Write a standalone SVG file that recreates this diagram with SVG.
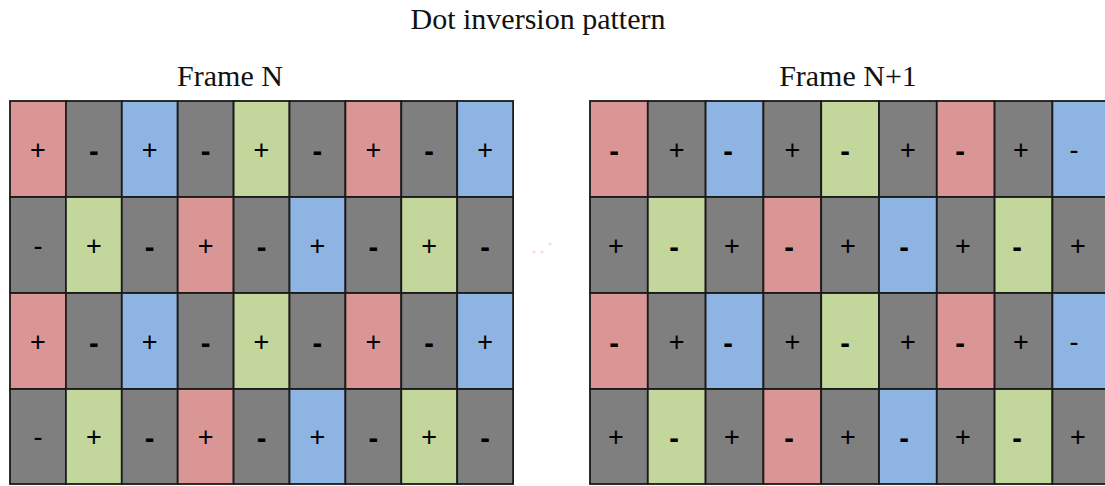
<svg xmlns="http://www.w3.org/2000/svg" width="1105" height="486" viewBox="0 0 1105 486">
<style>
.r{fill:#D99694}.k{fill:#7F7F7F}.b{fill:#8EB4E3}.g{fill:#C3D69B}
rect.c{stroke:#1a1a1a;stroke-width:1.8}
.t{font-family:"Liberation Serif","Times New Roman",serif;fill:#111;text-anchor:middle}
.s{font-family:"Liberation Sans",Arial,sans-serif;font-size:27px;fill:#000;text-anchor:middle}
.m{font-weight:bold;font-size:29px}
</style>
<rect width="1105" height="486" fill="#fff"/>
<text class="t" x="538" y="29" font-size="30">Dot inversion pattern</text>
<text class="t" x="230" y="86" font-size="30">Frame N</text>
<text class="t" x="848" y="86" font-size="30">Frame N+1</text>
<g id="watermark" fill="#FCD9C4" opacity="0.8">
<circle cx="534" cy="252" r="1.6"/><circle cx="542" cy="252" r="1.6"/><circle cx="550" cy="244" r="1.6"/>
</g>
<g id="frameN">
<g id="n-r1">
<rect class="c r" x="10" y="101" width="55.9" height="96"/><text class="s" x="38" y="159">+</text>
<rect class="c k" x="65.9" y="101" width="55.9" height="96"/><text class="s m" x="93.8" y="161">-</text>
<rect class="c b" x="121.8" y="101" width="55.9" height="96"/><text class="s" x="149.7" y="159">+</text>
<rect class="c k" x="177.7" y="101" width="55.9" height="96"/><text class="s m" x="205.6" y="161">-</text>
<rect class="c g" x="233.6" y="101" width="55.9" height="96"/><text class="s" x="261.5" y="159">+</text>
<rect class="c k" x="289.5" y="101" width="55.9" height="96"/><text class="s m" x="317.4" y="161">-</text>
<rect class="c r" x="345.4" y="101" width="55.9" height="96"/><text class="s" x="373.3" y="159">+</text>
<rect class="c k" x="401.3" y="101" width="55.9" height="96"/><text class="s m" x="429.2" y="161">-</text>
<rect class="c b" x="457.2" y="101" width="55.9" height="96"/><text class="s" x="485.1" y="159">+</text>
</g>
<g id="n-r2">
<rect class="c k" x="10" y="197" width="55.9" height="96"/><text class="s" x="38" y="255">-</text>
<rect class="c g" x="65.9" y="197" width="55.9" height="96"/><text class="s" x="93.8" y="255">+</text>
<rect class="c k" x="121.8" y="197" width="55.9" height="96"/><text class="s m" x="149.7" y="257">-</text>
<rect class="c r" x="177.7" y="197" width="55.9" height="96"/><text class="s" x="205.6" y="255">+</text>
<rect class="c k" x="233.6" y="197" width="55.9" height="96"/><text class="s m" x="261.5" y="257">-</text>
<rect class="c b" x="289.5" y="197" width="55.9" height="96"/><text class="s" x="317.4" y="255">+</text>
<rect class="c k" x="345.4" y="197" width="55.9" height="96"/><text class="s m" x="373.3" y="257">-</text>
<rect class="c g" x="401.3" y="197" width="55.9" height="96"/><text class="s" x="429.2" y="255">+</text>
<rect class="c k" x="457.2" y="197" width="55.9" height="96"/><text class="s m" x="485.1" y="257">-</text>
</g>
<g id="n-r3">
<rect class="c r" x="10" y="293" width="55.9" height="96"/><text class="s" x="38" y="351">+</text>
<rect class="c k" x="65.9" y="293" width="55.9" height="96"/><text class="s m" x="93.8" y="353">-</text>
<rect class="c b" x="121.8" y="293" width="55.9" height="96"/><text class="s" x="149.7" y="351">+</text>
<rect class="c k" x="177.7" y="293" width="55.9" height="96"/><text class="s m" x="205.6" y="353">-</text>
<rect class="c g" x="233.6" y="293" width="55.9" height="96"/><text class="s" x="261.5" y="351">+</text>
<rect class="c k" x="289.5" y="293" width="55.9" height="96"/><text class="s m" x="317.4" y="353">-</text>
<rect class="c r" x="345.4" y="293" width="55.9" height="96"/><text class="s" x="373.3" y="351">+</text>
<rect class="c k" x="401.3" y="293" width="55.9" height="96"/><text class="s m" x="429.2" y="353">-</text>
<rect class="c b" x="457.2" y="293" width="55.9" height="96"/><text class="s" x="485.1" y="351">+</text>
</g>
<g id="n-r4">
<rect class="c k" x="10" y="389" width="55.9" height="95"/><text class="s" x="38" y="446">-</text>
<rect class="c g" x="65.9" y="389" width="55.9" height="95"/><text class="s" x="93.8" y="446">+</text>
<rect class="c k" x="121.8" y="389" width="55.9" height="95"/><text class="s m" x="149.7" y="448">-</text>
<rect class="c r" x="177.7" y="389" width="55.9" height="95"/><text class="s" x="205.6" y="446">+</text>
<rect class="c k" x="233.6" y="389" width="55.9" height="95"/><text class="s m" x="261.5" y="448">-</text>
<rect class="c b" x="289.5" y="389" width="55.9" height="95"/><text class="s" x="317.4" y="446">+</text>
<rect class="c k" x="345.4" y="389" width="55.9" height="95"/><text class="s m" x="373.3" y="448">-</text>
<rect class="c g" x="401.3" y="389" width="55.9" height="95"/><text class="s" x="429.2" y="446">+</text>
<rect class="c k" x="457.2" y="389" width="55.9" height="95"/><text class="s m" x="485.1" y="448">-</text>
</g>
</g>
<g id="frameN1">
<g id="n1-r1">
<rect class="c r" x="590" y="101" width="57.8" height="96"/><text class="s m" x="614" y="161">-</text>
<rect class="c k" x="647.8" y="101" width="57.8" height="96"/><text class="s" x="676.7" y="159">+</text>
<rect class="c b" x="705.6" y="101" width="57.8" height="96"/><text class="s m" x="728" y="161">-</text>
<rect class="c k" x="763.4" y="101" width="57.8" height="96"/><text class="s" x="792.3" y="159">+</text>
<rect class="c g" x="821.2" y="101" width="57.8" height="96"/><text class="s m" x="845" y="161">-</text>
<rect class="c k" x="879" y="101" width="57.8" height="96"/><text class="s" x="907.9" y="159">+</text>
<rect class="c r" x="936.8" y="101" width="57.8" height="96"/><text class="s m" x="960" y="161">-</text>
<rect class="c k" x="994.6" y="101" width="57.8" height="96"/><text class="s" x="1021" y="159">+</text>
<rect class="c b" x="1052.4" y="101" width="57.8" height="96"/><text class="s" x="1074" y="159">-</text>
</g>
<g id="n1-r2">
<rect class="c k" x="590" y="197" width="57.8" height="96"/><text class="s" x="616" y="255">+</text>
<rect class="c g" x="647.8" y="197" width="57.8" height="96"/><text class="s m" x="674" y="257">-</text>
<rect class="c k" x="705.6" y="197" width="57.8" height="96"/><text class="s" x="732" y="255">+</text>
<rect class="c r" x="763.4" y="197" width="57.8" height="96"/><text class="s m" x="789" y="257">-</text>
<rect class="c k" x="821.2" y="197" width="57.8" height="96"/><text class="s" x="848" y="255">+</text>
<rect class="c b" x="879" y="197" width="57.8" height="96"/><text class="s m" x="904" y="257">-</text>
<rect class="c k" x="936.8" y="197" width="57.8" height="96"/><text class="s" x="963" y="255">+</text>
<rect class="c g" x="994.6" y="197" width="57.8" height="96"/><text class="s m" x="1017" y="257">-</text>
<rect class="c k" x="1052.4" y="197" width="57.8" height="96"/><text class="s" x="1078" y="255">+</text>
</g>
<g id="n1-r3">
<rect class="c r" x="590" y="293" width="57.8" height="96"/><text class="s m" x="614" y="353">-</text>
<rect class="c k" x="647.8" y="293" width="57.8" height="96"/><text class="s" x="676.7" y="351">+</text>
<rect class="c b" x="705.6" y="293" width="57.8" height="96"/><text class="s m" x="728" y="353">-</text>
<rect class="c k" x="763.4" y="293" width="57.8" height="96"/><text class="s" x="792.3" y="351">+</text>
<rect class="c g" x="821.2" y="293" width="57.8" height="96"/><text class="s m" x="845" y="353">-</text>
<rect class="c k" x="879" y="293" width="57.8" height="96"/><text class="s" x="907.9" y="351">+</text>
<rect class="c r" x="936.8" y="293" width="57.8" height="96"/><text class="s m" x="960" y="353">-</text>
<rect class="c k" x="994.6" y="293" width="57.8" height="96"/><text class="s" x="1021" y="351">+</text>
<rect class="c b" x="1052.4" y="293" width="57.8" height="96"/><text class="s" x="1074" y="351">-</text>
</g>
<g id="n1-r4">
<rect class="c k" x="590" y="389" width="57.8" height="95"/><text class="s" x="616" y="446">+</text>
<rect class="c g" x="647.8" y="389" width="57.8" height="95"/><text class="s m" x="674" y="448">-</text>
<rect class="c k" x="705.6" y="389" width="57.8" height="95"/><text class="s" x="732" y="446">+</text>
<rect class="c r" x="763.4" y="389" width="57.8" height="95"/><text class="s m" x="789" y="448">-</text>
<rect class="c k" x="821.2" y="389" width="57.8" height="95"/><text class="s" x="848" y="446">+</text>
<rect class="c b" x="879" y="389" width="57.8" height="95"/><text class="s m" x="904" y="448">-</text>
<rect class="c k" x="936.8" y="389" width="57.8" height="95"/><text class="s" x="963" y="446">+</text>
<rect class="c g" x="994.6" y="389" width="57.8" height="95"/><text class="s m" x="1017" y="448">-</text>
<rect class="c k" x="1052.4" y="389" width="57.8" height="95"/><text class="s" x="1078" y="446">+</text>
</g>
</g>
<g id="connectors"/>
</svg>
